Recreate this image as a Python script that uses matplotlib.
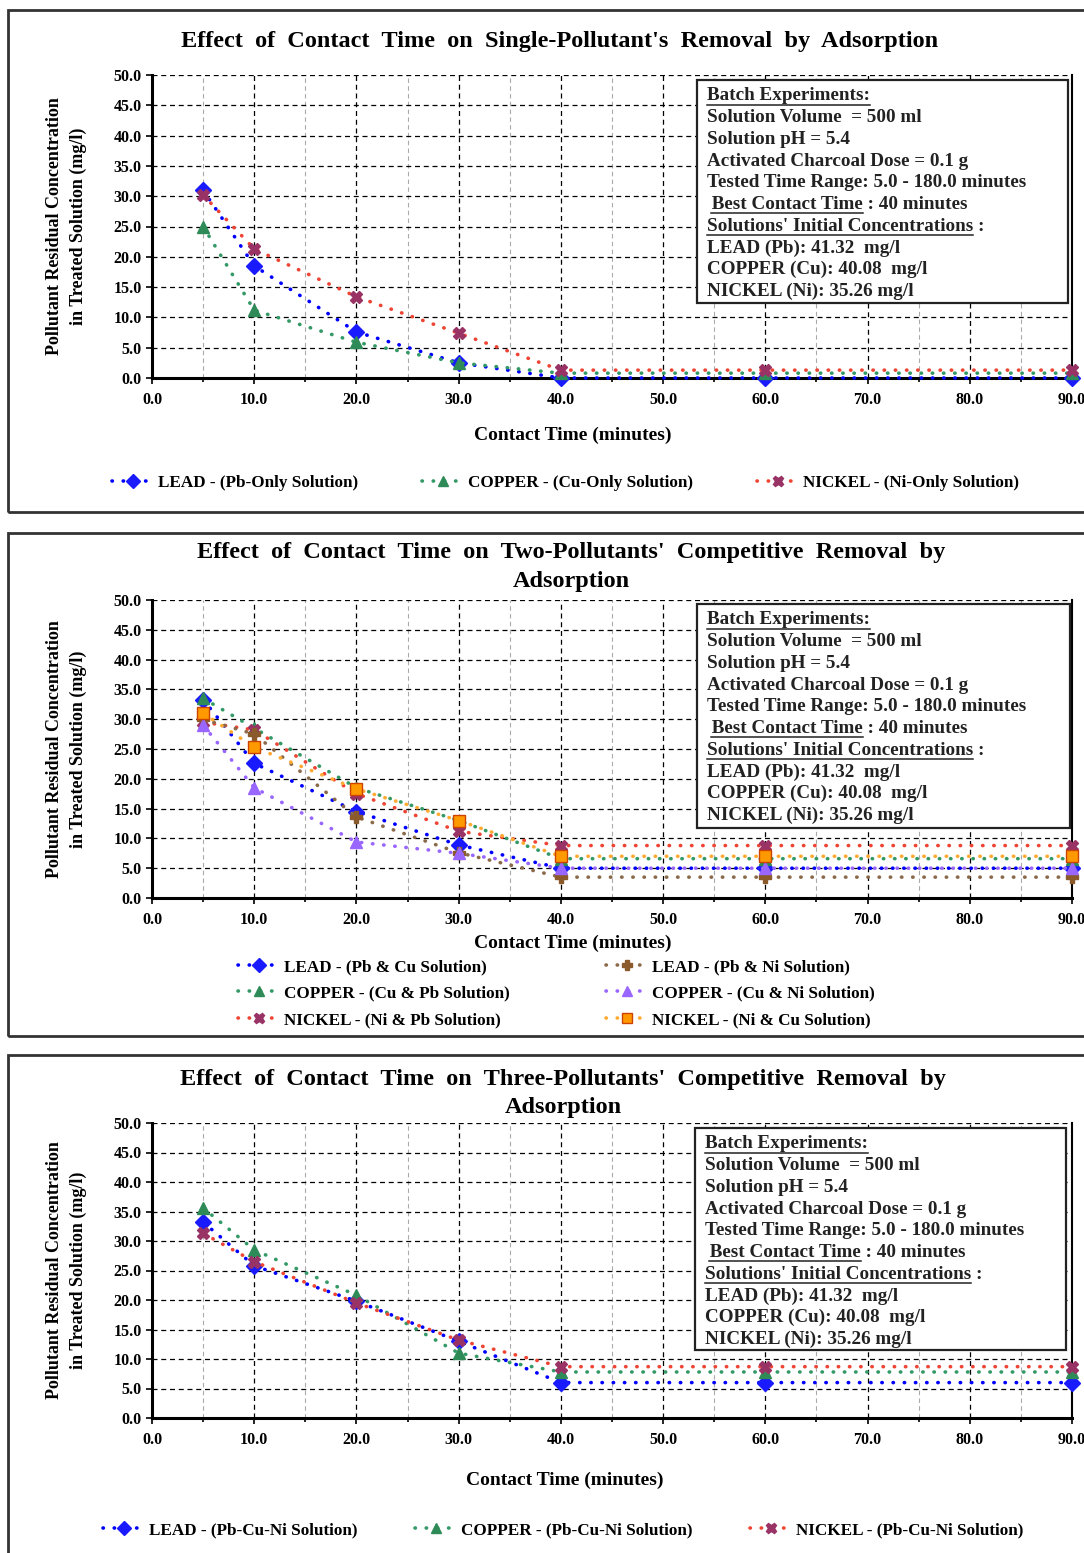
import matplotlib
matplotlib.use("Agg")
from matplotlib import pyplot as plt
from matplotlib.patches import Rectangle
from matplotlib.ticker import MultipleLocator, FormatStrFormatter

plt.rcParams['font.family'] = ['Liberation Serif', 'DejaVu Serif']
plt.rcParams['font.weight'] = 'bold'

W, H = 1084, 1553

# contact times shown on the charts (minutes)
times = [5, 10, 20, 30, 40, 60, 90]

# panel 1 - single pollutant
lead_single = [31.0, 18.5, 7.6, 2.5, 0.0, 0.0, 0.0]
copper_single = [25.0, 11.2, 5.9, 2.5, 0.8, 0.8, 0.8]
nickel_single = [30.2, 21.3, 13.4, 7.4, 1.3, 1.3, 1.3]

# panel 2 - two pollutants
lead_pb_cu = [33.3, 22.6, 14.5, 8.9, 5.0, 5.0, 5.0]
lead_pb_ni = [30.0, 27.5, 13.6, 7.6, 3.5, 3.5, 3.5]
copper_cu_pb = [33.5, 28.5, 18.5, 13.0, 6.6, 6.6, 6.6]
copper_cu_ni = [29.0, 18.5, 9.4, 7.5, 5.0, 5.0, 5.0]
nickel_ni_pb = [29.5, 28.2, 17.5, 11.2, 8.8, 8.8, 8.8]
nickel_ni_cu = [31.0, 25.3, 18.3, 13.0, 7.0, 7.0, 7.0]

# panel 3 - three pollutants
lead_three = [33.2, 25.8, 19.8, 13.0, 6.0, 6.0, 6.0]
copper_three = [35.6, 28.5, 20.8, 11.0, 7.8, 7.8, 7.8]
nickel_three = [31.3, 26.5, 19.5, 13.2, 8.7, 8.7, 8.7]

info_lines = ["Batch Experiments:",
              "Solution Volume  = 500 ml",
              "Solution pH = 5.4",
              "Activated Charcoal Dose = 0.1 g",
              "Tested Time Range: 5.0 - 180.0 minutes",
              " Best Contact Time : 40 minutes",
              "Solutions' Initial Concentrations :",
              "LEAD (Pb): 41.32  mg/l",
              "COPPER (Cu): 40.08  mg/l",
              "NICKEL (Ni): 35.26 mg/l"]
underlined = {0: "Batch Experiments:", 5: " Best Contact Time", 6: "Solutions' Initial Concentrations"}

TITLE_FS = 17.5
INFO_FS = 13.8
LEG_FS = 12.3
TICK_FS = 11.5

fig = plt.figure(figsize=(W / 100, H / 100), dpi=100)


def fx(px):
    return px / W


def fy(py):
    return 1 - py / H


def rect(l, t, r, b):
    return [fx(l), fy(b), (r - l) / W, (b - t) / H]


DOT = (0, (0.1, 3.0))


def series(ax, y, label, line_color, marker, marker_color, edge=None):
    ax.plot(times, y, linestyle=DOT, linewidth=2.6, dash_capstyle='round', color=line_color,
            marker=marker, markersize=8.5, markerfacecolor=marker_color,
            markeredgecolor=edge if edge else marker_color, label=label, clip_on=False, zorder=3)


def setup_axes(l, t, r, b):
    ax = fig.add_axes(rect(l, t, r, b))
    ax.set_xlim(0, 90)
    ax.set_ylim(0, 50)
    ax.xaxis.set_major_locator(MultipleLocator(10))
    ax.xaxis.set_minor_locator(MultipleLocator(5))
    ax.yaxis.set_major_locator(MultipleLocator(5))
    ax.xaxis.set_major_formatter(FormatStrFormatter('%.1f'))
    ax.yaxis.set_major_formatter(FormatStrFormatter('%.1f'))
    ax.grid(which='major', color='black', linestyle=(0, (4, 3)), linewidth=0.9)
    ax.grid(which='minor', axis='x', color='#aaaaaa', linestyle=(0, (4, 3)), linewidth=0.8)
    ax.tick_params(which='both', direction='out', labelsize=TICK_FS, width=1.2)
    ax.tick_params(which='major', length=4)
    ax.tick_params(which='minor', length=3)
    ax.tick_params(axis='x', pad=6)
    for lab in ax.get_xticklabels() + ax.get_yticklabels():
        lab.set_fontweight('bold')
    ax.spines['top'].set_visible(False)
    ax.spines['left'].set_linewidth(2.2)
    ax.spines['bottom'].set_linewidth(2.2)
    ax.spines['right'].set_linewidth(1.5)
    ax.set_axisbelow(True)
    return ax


def ylabel(t, b):
    mid = (t + b) / 2
    fig.text(fx(55), fy(mid), "Pollutant Residual Concentration", rotation=90,
             ha='center', va='center', fontsize=13, fontweight='bold')
    fig.text(fx(78), fy(mid), "in Treated Solution (mg/l)", rotation=90,
             ha='center', va='center', fontsize=13, fontweight='bold')


def info_box(l, t, r, b):
    fig.patches.append(Rectangle((fx(l), fy(b)), (r - l) / W, (b - t) / H, transform=fig.transFigure,
                                 facecolor='white', edgecolor='#222222', linewidth=1.6, zorder=5))
    renderer = fig.canvas.get_renderer()
    for i, line in enumerate(info_lines):
        y = t + 16 + i * 21.7
        fig.text(fx(l + 10), fy(y), line, ha='left', va='center', fontsize=INFO_FS,
                 fontweight='bold', color='#222222', zorder=6)
        if i in underlined:
            # measure the underlined part, then drop the helper text
            tt = fig.text(fx(l + 10), fy(y), underlined[i], ha='left', va='center',
                          fontsize=INFO_FS, fontweight='bold')
            bb = tt.get_window_extent(renderer)
            tt.remove()
            x0 = bb.x0 / W
            if underlined[i].startswith(' '):
                x0 += 4 / W
            fig.add_artist(plt.Line2D([x0, bb.x1 / W], [fy(y + 8.5), fy(y + 8.5)], transform=fig.transFigure,
                                      color='#222222', linewidth=1.1, zorder=7))


def panel_frame(t, b):
    fig.patches.append(Rectangle((fx(8), fy(b)), 1.2, (b - t) / H, transform=fig.transFigure,
                                 facecolor='none', edgecolor='#333333', linewidth=2, zorder=0))


def legend_entries(ax, spots):
    handles, labels = ax.get_legend_handles_labels()
    for h, lab, (px, py) in zip(handles, labels, spots):
        fig.legend([h], [lab], loc='center left', bbox_to_anchor=(fx(px), fy(py)),
                   frameon=False, borderpad=0, borderaxespad=0, handlelength=2.4,
                   handletextpad=0.3, markerscale=0.85, prop={'weight': 'bold', 'size': LEG_FS})


def title(cx, lines):
    for text, py in lines:
        fig.text(fx(cx), fy(py), text, ha='center', va='center', fontsize=TITLE_FS, fontweight='bold')


def xlabel(cx, py):
    fig.text(fx(cx), fy(py), "Contact Time (minutes)", ha='center', va='center',
             fontsize=14, fontweight='bold')


# ---------------- panel 1 ----------------
panel_frame(10, 512)
ax1 = setup_axes(152, 75, 1072, 378)
series(ax1, lead_single, "LEAD - (Pb-Only Solution)", '#0000ff', 'D', '#1a1aff')
series(ax1, copper_single, "COPPER - (Cu-Only Solution)", '#339966', '^', '#2e8b57')
series(ax1, nickel_single, "NICKEL - (Ni-Only Solution)", '#ee4433', 'X', '#993366')
title(560, [("Effect  of  Contact  Time  on  Single-Pollutant's  Removal  by  Adsorption", 42)])
ylabel(75, 378)
xlabel(573, 435)
info_box(697, 80, 1068, 303)
legend_entries(ax1, [(112, 483), (422, 483), (757, 483)])

# ---------------- panel 2 ----------------
panel_frame(533, 1036)
ax2 = setup_axes(152, 600, 1072, 898)
series(ax2, lead_pb_cu, "LEAD - (Pb & Cu Solution)", '#0000ff', 'D', '#1a1aff')
series(ax2, copper_cu_pb, "COPPER - (Cu & Pb Solution)", '#339966', '^', '#2e8b57')
series(ax2, nickel_ni_pb, "NICKEL - (Ni & Pb Solution)", '#ee4433', 'X', '#993366')
series(ax2, lead_pb_ni, "LEAD - (Pb & Ni Solution)", '#8b6a4a', 'P', '#8b5a2b')
series(ax2, copper_cu_ni, "COPPER - (Cu & Ni Solution)", '#9966ff', '^', '#9966ff')
series(ax2, nickel_ni_cu, "NICKEL - (Ni & Cu Solution)", '#ffaa33', 's', '#ff9900', edge='#cc4400')
title(571, [("Effect  of  Contact  Time  on  Two-Pollutants'  Competitive  Removal  by", 553),
            ("Adsorption", 581)])
ylabel(600, 898)
xlabel(573, 943)
info_box(697, 604, 1070, 828)
legend_entries(ax2, [(238, 967), (238, 993), (238, 1020), (606, 967), (606, 993), (606, 1020)])

# ---------------- panel 3 ----------------
panel_frame(1055, 1580)
ax3 = setup_axes(152, 1123, 1072, 1418)
series(ax3, lead_three, "LEAD - (Pb-Cu-Ni Solution)", '#0000ff', 'D', '#1a1aff')
series(ax3, copper_three, "COPPER - (Pb-Cu-Ni Solution)", '#339966', '^', '#2e8b57')
series(ax3, nickel_three, "NICKEL - (Pb-Cu-Ni Solution)", '#ee4433', 'X', '#993366')
title(563, [("Effect  of  Contact  Time  on  Three-Pollutants'  Competitive  Removal  by", 1080),
            ("Adsorption", 1107)])
ylabel(1123, 1418)
xlabel(565, 1480)
info_box(695, 1128, 1066, 1350)
legend_entries(ax3, [(103, 1530), (415, 1530), (750, 1530)])

fig.savefig("out.png", dpi=100)
